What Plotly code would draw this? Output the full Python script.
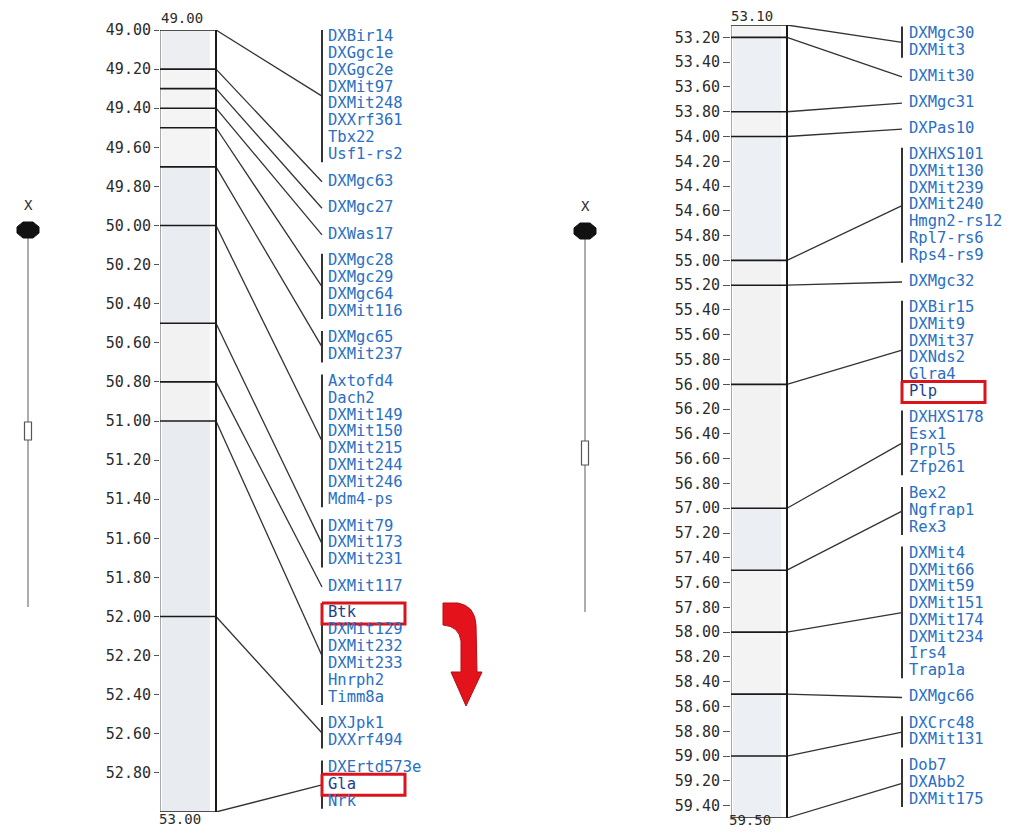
import plotly.graph_objects as go

# page geometry: the browser body adds an 8px margin around the figure div
PAGE_W, PAGE_H = 1015, 835
OFF = 8
W, H = PAGE_W - 2 * OFF, PAGE_H - 2 * OFF
FONT = "DejaVu Sans Mono"
BLUE = "#2a6fc4"
DARK_BLUE = "#1d3f8a"
RED = "#d9141c"
INK = "#2b2b2b"

# ---------------- data: left panel (49.00 - 53.00 cM) ----------------
left_ticks = [49.00, 49.20, 49.40, 49.60, 49.80, 50.00, 50.20, 50.40, 50.60, 50.80,
              51.00, 51.20, 51.40, 51.60, 51.80, 52.00, 52.20, 52.40, 52.60, 52.80]
left_positions = [49.00, 49.20, 49.30, 49.40, 49.50, 49.70, 50.00, 50.50, 50.80, 51.00, 52.00, 53.00]
left_groups = [
    ["DXBir14", "DXGgc1e", "DXGgc2e", "DXMit97", "DXMit248", "DXXrf361", "Tbx22", "Usf1-rs2"],
    ["DXMgc63"],
    ["DXMgc27"],
    ["DXWas17"],
    ["DXMgc28", "DXMgc29", "DXMgc64", "DXMit116"],
    ["DXMgc65", "DXMit237"],
    ["Axtofd4", "Dach2", "DXMit149", "DXMit150", "DXMit215", "DXMit244", "DXMit246", "Mdm4-ps"],
    ["DXMit79", "DXMit173", "DXMit231"],
    ["DXMit117"],
    ["Btk", "DXMit129", "DXMit232", "DXMit233", "Hnrph2", "Timm8a"],
    ["DXJpk1", "DXXrf494"],
    ["DXErtd573e", "Gla", "Nrk"],
]
left_band_fills = ["#eceef1", "#f4f4f5", "#f4f4f5", "#f4f4f5", "#f4f4f5", "#eaedf1",
                   "#e9edf2", "#f2f2f3", "#f2f2f3", "#e8ecf1", "#e8ecf1"]

# ---------------- data: right panel (53.10 - 59.50 cM) ----------------
right_ticks = [53.20, 53.40, 53.60, 53.80, 54.00, 54.20, 54.40, 54.60, 54.80, 55.00,
               55.20, 55.40, 55.60, 55.80, 56.00, 56.20, 56.40, 56.60, 56.80, 57.00,
               57.20, 57.40, 57.60, 57.80, 58.00, 58.20, 58.40, 58.60, 58.80, 59.00,
               59.20, 59.40]
right_positions = [53.10, 53.20, 53.80, 54.00, 55.00, 55.20, 56.00, 57.00, 57.50, 58.00, 58.50, 59.00, 59.50]
right_groups = [
    ["DXMgc30", "DXMit3"],
    ["DXMit30"],
    ["DXMgc31"],
    ["DXPas10"],
    ["DXHXS101", "DXMit130", "DXMit239", "DXMit240", "Hmgn2-rs12", "Rpl7-rs6", "Rps4-rs9"],
    ["DXMgc32"],
    ["DXBir15", "DXMit9", "DXMit37", "DXNds2", "Glra4", "Plp"],
    ["DXHXS178", "Esx1", "Prpl5", "Zfp261"],
    ["Bex2", "Ngfrap1", "Rex3"],
    ["DXMit4", "DXMit66", "DXMit59", "DXMit151", "DXMit174", "DXMit234", "Irs4", "Trap1a"],
    ["DXMgc66"],
    ["DXCrc48", "DXMit131"],
    ["Dob7", "DXAbb2", "DXMit175"],
]
right_band_fills = ["#f3f3f3", "#eceff3", "#f3f3f3", "#eceff3", "#f2f2f3", "#f2f2f3",
                    "#f2f2f3", "#ebeef2", "#f3f3f3", "#f3f3f3", "#eceff3", "#eceff3"]

highlighted = ["Btk", "Gla", "Plp"]

# ---------------- panel geometry (page-pixel layout) ----------------
panels = [
    dict(xa="x", ya="y", ticks=left_ticks, positions=left_positions,
         groups=left_groups, fills=left_band_fills,
         px_top=30, px_bot=812, bar_x0=160, bar_x1=216, bracket_x=322, label_x=328,
         first_px=37, row=16.9, extra=9.6, top_text_x=159, top_text_px=18,
         bot_text_x=157, bot_text_px=819, box_w=83, x_end=600, ticklen=5),
    dict(xa="x2", ya="y2", ticks=right_ticks, positions=right_positions,
         groups=right_groups, fills=right_band_fills,
         px_top=25, px_bot=818, bar_x0=731, bar_x1=787, bracket_x=902, label_x=909,
         first_px=34, row=16.75, extra=9.4, top_text_x=729, top_text_px=16,
         bot_text_x=727, bot_text_px=820, box_w=83, x_end=PAGE_W - OFF, ticklen=7),
]


def fx(px):
    return (px - OFF) / W


def fy(py):
    return 1 - (py - OFF) / H


def fmt(v):
    return f"{v:.2f}"


fig = go.Figure()
shapes = []
annotations = []
axis_cfg = {}

for idx, p in enumerate(panels):
    cm_top, cm_bot = p["positions"][0], p["positions"][-1]
    scale = (cm_bot - cm_top) / (p["px_bot"] - p["px_top"])

    def to_cm(px, p=p, cm_top=cm_top, scale=scale):
        return cm_top + (px - p["px_top"]) * scale

    xa, ya = p["xa"], p["ya"]
    sfx = "" if idx == 0 else str(idx + 1)
    axis_cfg["xaxis" + sfx] = dict(domain=[fx(p["bar_x0"]), fx(p["x_end"])],
                                   range=[p["bar_x0"], p["x_end"]], anchor=ya,
                                   visible=False, automargin=False, fixedrange=True)
    axis_cfg["yaxis" + sfx] = dict(domain=[fy(p["px_bot"]), fy(p["px_top"])],
                                   range=[cm_bot, cm_top], anchor=xa,
                                   tickvals=p["ticks"], ticktext=[fmt(v) for v in p["ticks"]],
                                   ticks="outside", ticklen=p["ticklen"], tickwidth=1.4,
                                   tickcolor="#555555",
                                   tickfont=dict(family=FONT, size=15, color=INK),
                                   showgrid=False, zeroline=False, showline=False,
                                   automargin=False, fixedrange=True)

    # chromosome bar fills
    for i, col in enumerate(p["fills"]):
        shapes.append(dict(type="rect", xref=xa, yref=ya, layer="below",
                           x0=p["bar_x0"] + 2, x1=p["bar_x1"] - 6,
                           y0=p["positions"][i], y1=p["positions"][i + 1],
                           fillcolor=col, line=dict(width=0)))
    shapes.append(dict(type="line", xref=xa, yref=ya, x0=p["bar_x0"], x1=p["bar_x0"],
                       y0=cm_top, y1=cm_bot, line=dict(color="#7a7a7a", width=1.3)))
    shapes.append(dict(type="line", xref=xa, yref=ya, x0=p["bar_x1"], x1=p["bar_x1"],
                       y0=cm_top, y1=cm_bot, line=dict(color="#1a1a1a", width=2)))
    for pos in p["positions"]:
        shapes.append(dict(type="line", xref=xa, yref=ya, x0=p["bar_x0"], x1=p["bar_x1"],
                           y0=pos, y1=pos, line=dict(color="#1a1a1a", width=1.6)))

    # label layout: rows stacked downwards, extra gap between groups
    lab_y, lab_t, lab_c = [], [], []
    br_x, br_y, cn_x, cn_y = [], [], [], []
    boxes = []
    k = 0
    for g, (pos, names) in enumerate(zip(p["positions"], p["groups"])):
        pxs = []
        for nm in names:
            px = p["first_px"] + p["row"] * k + p["extra"] * g
            pxs.append(px)
            lab_y.append(to_cm(px))
            lab_t.append(nm)
            lab_c.append(DARK_BLUE if nm in highlighted else BLUE)
            if nm in highlighted:
                boxes.append((to_cm(px - 10.5), to_cm(px + 10.5)))
            k += 1
        mid = sum(pxs) / len(pxs)
        if len(names) > 1:
            br_x += [p["bracket_x"], p["bracket_x"], None]
            br_y += [to_cm(pxs[0] - 7.5), to_cm(pxs[-1] + 7), None]
        cn_x += [p["bar_x1"], p["bracket_x"], None]
        cn_y += [pos, to_cm(mid), None]

    fig.add_trace(go.Scatter(x=cn_x, y=cn_y, mode="lines", xaxis=xa, yaxis=ya,
                             line=dict(color="#333333", width=1.3), hoverinfo="skip",
                             cliponaxis=False))
    fig.add_trace(go.Scatter(x=br_x, y=br_y, mode="lines", xaxis=xa, yaxis=ya,
                             line=dict(color="#333333", width=2), hoverinfo="skip",
                             cliponaxis=False))
    for (y0, y1) in boxes:
        bx0 = p["bracket_x"]
        bx1 = p["bracket_x"] + p["box_w"]
        fig.add_trace(go.Scatter(x=[bx0, bx1, bx1, bx0, bx0], y=[y0, y0, y1, y1, y0],
                                 mode="lines", fill="toself", fillcolor="white",
                                 line=dict(color=RED, width=3), xaxis=xa, yaxis=ya,
                                 hoverinfo="skip", cliponaxis=False))
    fig.add_trace(go.Scatter(x=[p["label_x"]] * len(lab_t), y=lab_y, text=lab_t,
                             mode="text", textposition="middle right",
                             textfont=dict(family=FONT, size=15.5, color=lab_c),
                             xaxis=xa, yaxis=ya, hoverinfo="skip", cliponaxis=False))
    # end-of-segment labels above and below the bar
    for tx, tpx, val in [(p["top_text_x"], p["top_text_px"], cm_top),
                         (p["bot_text_x"], p["bot_text_px"], cm_bot)]:
        annotations.append(dict(x=tx, y=tpx, xref="x3", yref="y3", text=fmt(val),
                                showarrow=False, xanchor="left", yanchor="middle",
                                font=dict(family=FONT, size=14, color=INK)))

# ---------------- chromosome ideograms & arrow (pixel overlay) ----------------
ideograms = [dict(x=28, cen_px=230, bot_px=607, rect_px=(422, 440)),
             dict(x=585, cen_px=231, bot_px=612, rect_px=(441, 465))]
for idg in ideograms:
    cx, cy = idg["x"], idg["cen_px"]
    shapes.append(dict(type="line", xref="x3", yref="y3", x0=cx, x1=cx, y0=cy, y1=idg["bot_px"],
                       line=dict(color="#8a8a8a", width=1.4)))
    oct_pts = [(cx - 5, cy - 8), (cx + 5, cy - 8), (cx + 11, cy - 3), (cx + 11, cy + 3),
               (cx + 5, cy + 8), (cx - 5, cy + 8), (cx - 11, cy + 3), (cx - 11, cy - 3)]
    path = "M " + " L ".join(f"{a},{b}" for a, b in oct_pts) + " Z"
    shapes.append(dict(type="path", xref="x3", yref="y3", path=path,
                       fillcolor="#111111", line=dict(color="#111111", width=1)))
    r0, r1 = idg["rect_px"]
    shapes.append(dict(type="rect", xref="x3", yref="y3", x0=cx - 3.5, x1=cx + 3.5, y0=r0, y1=r1,
                       fillcolor="white", line=dict(color="#555555", width=1.2)))
    annotations.append(dict(x=cx, y=cy - 25, xref="x3", yref="y3", text="X", showarrow=False,
                            xanchor="center", yanchor="middle",
                            font=dict(family=FONT, size=14, color=INK)))

arrow_path = ("M 443,603 L 458,603 Q 475,606 476,625 L 477,672 L 482,672 L 466,706 "
              "L 451,672 L 461,672 L 461,641 Q 459,626 443,625 Z")
shapes.append(dict(type="path", xref="x3", yref="y3", path=arrow_path,
                   fillcolor="#e3121b", line=dict(color="#b80d14", width=1)))

axis_cfg["xaxis3"] = dict(domain=[0, 1], range=[OFF, PAGE_W - OFF], anchor="y3",
                          visible=False, automargin=False, fixedrange=True)
axis_cfg["yaxis3"] = dict(domain=[0, 1], range=[PAGE_H - OFF, OFF], anchor="x3",
                          visible=False, automargin=False, fixedrange=True)

fig.update_layout(
    width=W, height=H, margin=dict(l=0, r=0, t=0, b=0, pad=0),
    paper_bgcolor="white", plot_bgcolor="rgba(0,0,0,0)", showlegend=False,
    shapes=shapes, annotations=annotations, **axis_cfg,
)

fig.write_html("out.html")
